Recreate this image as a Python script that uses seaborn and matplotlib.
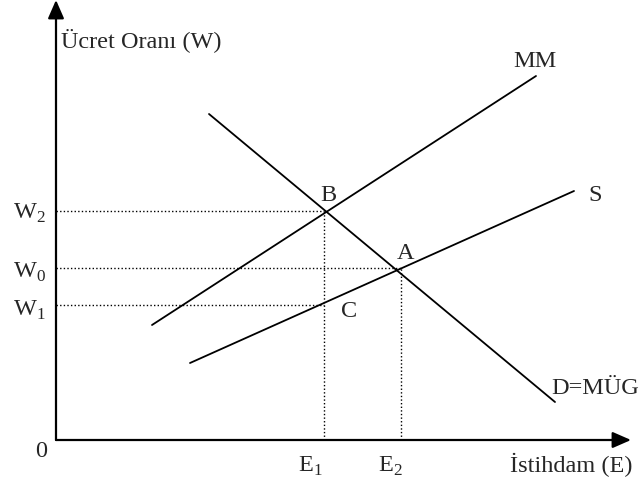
"""Monopsony wage diagram: supply S, marginal cost MM and demand D=MÜG
with the points A, B, C and the wage / employment guide lines.
"""

import numpy as np
import pandas as pd
import seaborn as sns
import matplotlib.pyplot as plt

# curve end points (employment, wage), arbitrary diagram units
mm_x = [96, 480]
mm_y = [115, 364]
s_x = [134, 518]
s_y = [77, 249]
d_x = [153, 499]
d_y = [326, 38]

# guide levels
w_levels = {"W2": 229, "W0": 172, "W1": 135}
e_levels = {"E1": 268, "E2": 345}

X_MAX = 575
Y_MAX = 440


def main():
    sns.set_theme(style="white")
    plt.rcParams["font.family"] = ["Liberation Serif", "DejaVu Serif"]
    plt.rcParams["mathtext.fontset"] = "custom"
    plt.rcParams["mathtext.rm"] = "Liberation Serif"

    fig = plt.figure(figsize=(6.41, 4.89), dpi=100)
    ax = fig.add_axes([0, 0, 1, 1])
    ax.set_xlim(-56, 585)
    ax.set_ylim(-48, 441)
    ax.axis("off")

    curves = pd.concat([
        pd.DataFrame({"E": mm_x, "W": mm_y, "curve": "MM"}),
        pd.DataFrame({"E": s_x, "W": s_y, "curve": "S"}),
        pd.DataFrame({"E": d_x, "W": d_y, "curve": "D"}),
    ])
    sns.lineplot(data=curves, x="E", y="W", units="curve", estimator=None,
                 color="black", lw=1.3, ax=ax, legend=False)

    # dotted guides
    dot = dict(color="black", lw=1.0, linestyle=(0, (1, 1.6)))
    w2, w0, w1 = w_levels["W2"], w_levels["W0"], w_levels["W1"]
    e1, e2 = e_levels["E1"], e_levels["E2"]
    ax.hlines([w2, w1], 0, e1, **dot)
    ax.hlines(w0, 0, e2, **dot)
    ax.vlines(e1, 0, w2, **dot)
    ax.vlines(e2, 0, w0, **dot)

    # axes with arrow heads
    arr = dict(arrowstyle="-|>,head_length=0.8,head_width=0.35",
               mutation_scale=14, lw=1.6, color="black",
               shrinkA=0, shrinkB=0)
    ax.annotate("", xy=(X_MAX, 0), xytext=(0, 0), arrowprops=arr)
    ax.annotate("", xy=(0, Y_MAX), xytext=(0, 0), arrowprops=arr)

    fs = 17.5
    ax.text(5, 394, "Ücret Oranı (W)", fontsize=fs, va="baseline")
    ax.text(454, -31, "İstihdam (E)", fontsize=fs, va="baseline")
    ax.text(-15, -11, "0", fontsize=fs, ha="center", va="center")

    ax.text(-43, 222, r"W$_\mathregular{2}$", fontsize=fs, va="baseline")
    ax.text(-43, 163, r"W$_\mathregular{0}$", fontsize=fs, va="baseline")
    ax.text(-43, 125, r"W$_\mathregular{1}$", fontsize=fs, va="baseline")
    ax.text(242, -31, r"E$_\mathregular{1}$", fontsize=fs, va="baseline")
    ax.text(322, -31, r"E$_\mathregular{2}$", fontsize=fs, va="baseline")

    ax.text(479, 379, "MM", fontsize=fs, ha="center", va="center")
    ax.text(539, 245, "S", fontsize=fs, ha="center", va="center")
    ax.text(495, 52, "D=MÜG", fontsize=fs, va="center")
    ax.text(272, 245, "B", fontsize=fs, ha="center", va="center")
    ax.text(350, 187, "A", fontsize=fs, ha="center", va="center")
    ax.text(293, 129, "C", fontsize=fs, ha="center", va="center")

    fig.savefig("out.png", dpi=100)
    plt.close(fig)


if __name__ == "__main__":
    main()
